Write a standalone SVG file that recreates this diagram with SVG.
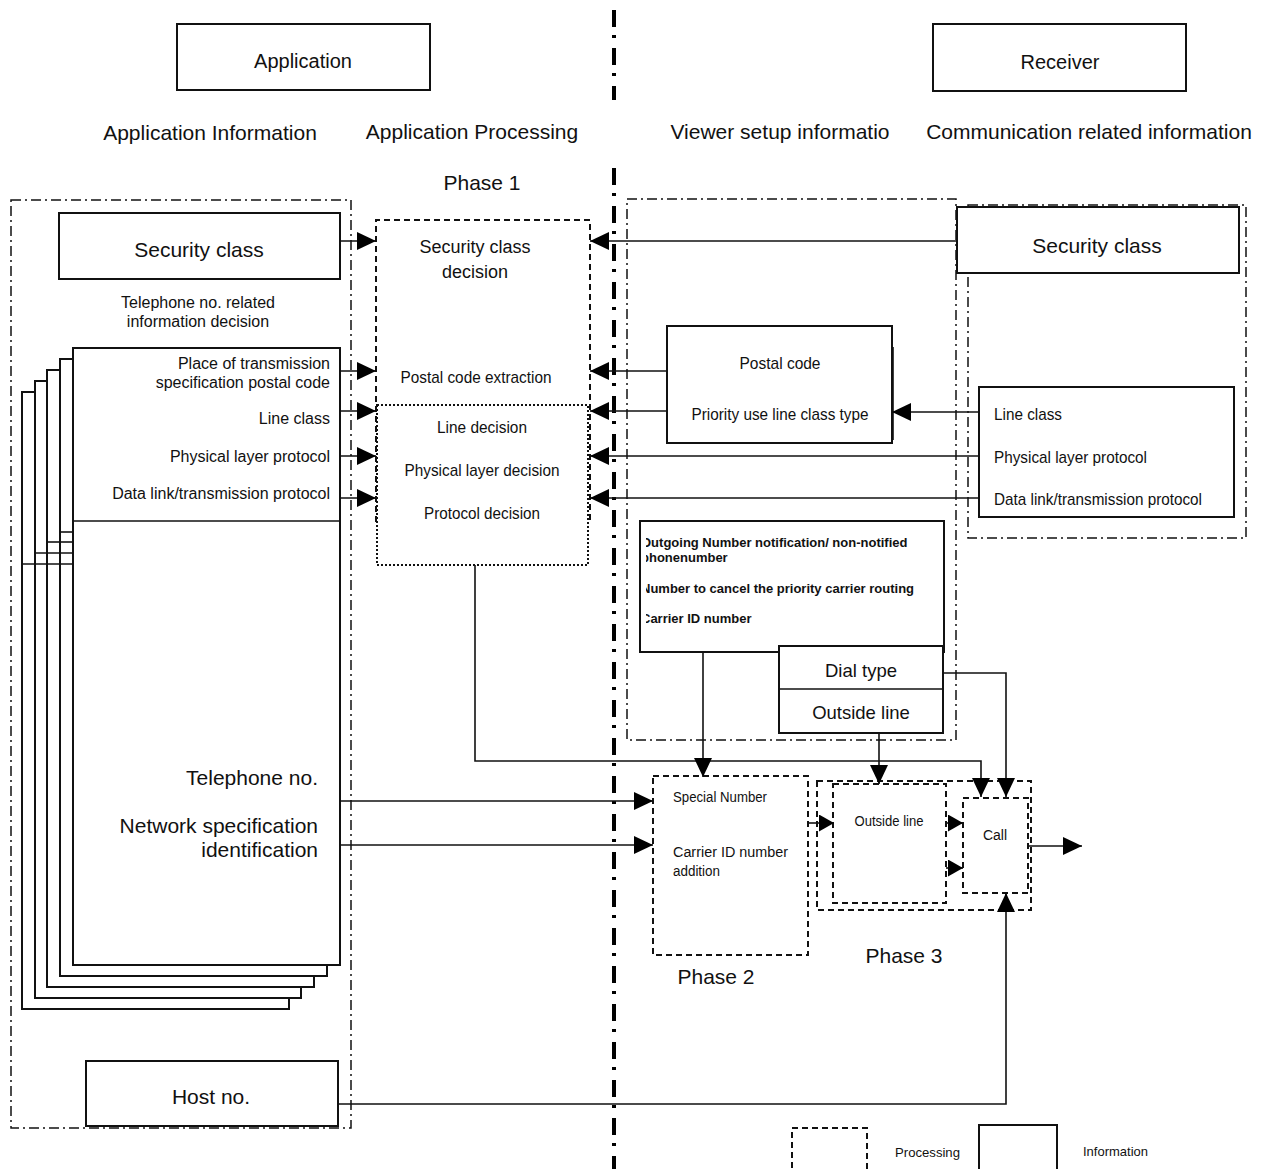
<svg xmlns="http://www.w3.org/2000/svg" width="1269" height="1169" viewBox="0 0 1269 1169">
  <style>
    text { font-family: "Liberation Sans", Arial, sans-serif; fill: #111; }
    .info { fill: #fff; stroke: #111; stroke-width: 2; }
    .proc { fill: none; stroke: #111; stroke-width: 2; stroke-dasharray: 6 4; }
    .dots { fill: none; stroke: #111; stroke-width: 2; stroke-dasharray: 2 2; }
    .zone { fill: none; stroke: #111; stroke-width: 1.5; stroke-dasharray: 10 4 2 4; }
    .divider { fill: none; stroke: #000; stroke-width: 4; stroke-dasharray: 17 8 3 10; }
    .wire { fill: none; stroke: #111; stroke-width: 1.6; }
    .arr { marker-end: url(#head); }
    .arrs { marker-end: url(#headS); }
    .c { text-anchor: middle; }
    .r { text-anchor: end; }
    .b { font-weight: bold; }
  </style>
  <defs>
    <marker id="head" viewBox="0 0 19 18" markerWidth="19" markerHeight="18" refX="19" refY="9" orient="auto" markerUnits="userSpaceOnUse">
      <path d="M0,0 L19,9 L0,18 Z" fill="#000"/>
    </marker>
    <marker id="headS" viewBox="0 0 15 17" markerWidth="15" markerHeight="17" refX="15" refY="8.5" orient="auto" markerUnits="userSpaceOnUse">
      <path d="M0,0 L15,8.5 L0,17 Z" fill="#000"/>
    </marker>
    <clipPath id="outgoingClip">
      <rect x="646" y="522" width="296" height="129"/>
    </clipPath>
  </defs>

  <rect width="1269" height="1169" fill="#fff"/>

  <!-- centre separator -->
  <g id="separator">
    <line class="divider" x1="614" y1="10" x2="614" y2="100"/>
    <line class="divider" x1="614" y1="168" x2="614" y2="1169"/>
  </g>

  <!-- headings -->
  <g id="app-title">
    <rect class="info" x="177" y="24" width="253" height="66"/>
    <text class="c" x="303" y="68" font-size="20">Application</text>
  </g>
  <g id="receiver-title">
    <rect class="info" x="933" y="24" width="253" height="67"/>
    <text class="c" x="1060" y="69" font-size="20">Receiver</text>
  </g>
  <g id="headings" font-size="21">
    <text class="c" x="210" y="140">Application Information</text>
    <text class="c" x="472" y="139">Application Processing</text>
    <text class="c" x="780" y="139">Viewer setup informatio</text>
    <text class="c" x="1089" y="139">Communication related information</text>
    <text class="c" x="482" y="190">Phase 1</text>
    <text class="c" x="716" y="984">Phase 2</text>
    <text class="c" x="904" y="963">Phase 3</text>
  </g>

  <!-- zones -->
  <g id="zones">
    <rect class="zone" x="11" y="200" width="340" height="928"/>
    <rect class="zone" x="627" y="199" width="329" height="541"/>
    <rect class="zone" x="968" y="205" width="278" height="333"/>
  </g>

  <!-- application information -->
  <g id="app-security-class">
    <rect class="info" x="59" y="213" width="281" height="66"/>
    <text class="c" x="199" y="257" font-size="21">Security class</text>
  </g>
  <g id="tel-related-label" font-size="16">
    <text class="c" x="198" y="308">Telephone no. related</text>
    <text class="c" x="198" y="327">information decision</text>
  </g>

  <g id="telephone-stack">
    <rect class="info" x="22" y="392" width="267" height="617"/>
    <rect class="info" x="35" y="381" width="266" height="617"/>
    <rect class="info" x="47" y="370" width="267" height="617"/>
    <rect class="info" x="60" y="359" width="267" height="617"/>
    <line class="wire" stroke-width="2" x1="22" y1="564" x2="73" y2="564"/>
    <line class="wire" stroke-width="2" x1="35" y1="553" x2="73" y2="553"/>
    <line class="wire" stroke-width="2" x1="47" y1="542" x2="73" y2="542"/>
    <line class="wire" stroke-width="2" x1="60" y1="532" x2="73" y2="532"/>
    <rect class="info" x="73" y="348" width="267" height="617"/>
    <line class="wire" stroke-width="2" x1="73" y1="521" x2="340" y2="521"/>
    <g font-size="16">
      <text class="r" x="330" y="369">Place of transmission</text>
      <text class="r" x="330" y="388">specification postal code</text>
      <text class="r" x="330" y="424">Line class</text>
      <text class="r" x="330" y="462">Physical layer protocol</text>
      <text class="r" x="330" y="499">Data link/transmission protocol</text>
    </g>
    <g font-size="21">
      <text class="r" x="318" y="785">Telephone no.</text>
      <text class="r" x="318" y="833">Network specification</text>
      <text class="r" x="318" y="857">identification</text>
    </g>
  </g>

  <g id="host-no">
    <rect class="info" x="86" y="1061" width="252" height="65"/>
    <text class="c" x="211" y="1104" font-size="21">Host no.</text>
  </g>

  <!-- phase 1 processing: open dashed frame over a dotted sub-box -->
  <g id="phase1-processing">
    <path class="proc" d="M376,522 V220 H590 V522"/>
    <rect class="dots" x="377" y="405" width="211" height="160"/>
    <text class="c" x="475" y="253" font-size="18">Security class</text>
    <text class="c" x="475" y="278" font-size="18">decision</text>
    <g font-size="17">
      <text class="c" x="476" y="383" textLength="151" lengthAdjust="spacingAndGlyphs">Postal code extraction</text>
      <text class="c" x="482" y="433" textLength="90" lengthAdjust="spacingAndGlyphs">Line decision</text>
      <text class="c" x="482" y="476" textLength="155" lengthAdjust="spacingAndGlyphs">Physical layer decision</text>
      <text class="c" x="482" y="519" textLength="116" lengthAdjust="spacingAndGlyphs">Protocol decision</text>
    </g>
  </g>

  <!-- viewer setup information -->
  <g id="viewer-postal">
    <rect class="info" x="667" y="326" width="225" height="117"/>
    <line class="wire" stroke-width="2" x1="893" y1="347" x2="893" y2="440"/>
    <g font-size="17">
      <text class="c" x="780" y="369" textLength="81" lengthAdjust="spacingAndGlyphs">Postal code</text>
      <text class="c" x="780" y="420" textLength="177" lengthAdjust="spacingAndGlyphs">Priority use line class type</text>
    </g>
  </g>
  <g id="viewer-outgoing">
    <rect class="info" x="640" y="521" width="304" height="131"/>
    <g font-size="13" class="b" clip-path="url(#outgoingClip)">
      <text x="641" y="547">Outgoing Number notification/ non-notified</text>
      <text x="641" y="562">phonenumber</text>
      <text x="641" y="593">Number to cancel the priority carrier routing</text>
      <text x="641" y="623">Carrier ID number</text>
    </g>
  </g>
  <g id="viewer-dial">
    <rect class="info" x="779" y="646" width="164" height="87"/>
    <line class="wire" x1="779" y1="689" x2="943" y2="689"/>
    <text class="c" x="861" y="677" font-size="18.5">Dial type</text>
    <text class="c" x="861" y="719" font-size="18.5">Outside line</text>
  </g>

  <!-- communication related information -->
  <g id="recv-security-class">
    <rect class="info" x="957" y="207" width="282" height="66"/>
    <text class="c" x="1097" y="253" font-size="21">Security class</text>
  </g>
  <g id="recv-line">
    <rect class="info" x="979" y="387" width="255" height="130"/>
    <g font-size="17">
      <text x="994" y="420" textLength="68" lengthAdjust="spacingAndGlyphs">Line class</text>
      <text x="994" y="463" textLength="153" lengthAdjust="spacingAndGlyphs">Physical layer protocol</text>
      <text x="994" y="505" textLength="208" lengthAdjust="spacingAndGlyphs">Data link/transmission protocol</text>
    </g>
  </g>

  <!-- phase 2 -->
  <g id="phase2-special">
    <rect class="proc" x="653" y="776" width="155" height="179"/>
    <g font-size="14">
      <text x="673" y="802" textLength="94" lengthAdjust="spacingAndGlyphs">Special Number</text>
      <text x="673" y="857" textLength="115" lengthAdjust="spacingAndGlyphs">Carrier  ID  number</text>
      <text x="673" y="876" textLength="47" lengthAdjust="spacingAndGlyphs">addition</text>
    </g>
  </g>

  <!-- phase 3 -->
  <g id="phase3">
    <rect class="proc" x="817" y="781" width="214" height="129"/>
  </g>
  <g id="phase3-outside">
    <rect class="proc" x="833" y="784" width="113" height="119"/>
    <text class="c" x="889" y="826" font-size="14" textLength="69" lengthAdjust="spacingAndGlyphs">Outside line</text>
  </g>
  <g id="phase3-call">
    <rect class="proc" x="963" y="798" width="65" height="95"/>
    <text class="c" x="995" y="840" font-size="14">Call</text>
  </g>

  <!-- legend -->
  <g id="legend-processing">
    <rect class="proc" x="792" y="1128" width="75" height="50"/>
    <text x="895" y="1157" font-size="13.5" textLength="65" lengthAdjust="spacingAndGlyphs">Processing</text>
  </g>
  <g id="legend-information">
    <rect class="info" x="979" y="1125" width="78" height="55"/>
    <text x="1083" y="1156" font-size="13.5" textLength="65" lengthAdjust="spacingAndGlyphs">Information</text>
  </g>

  <!-- connectors -->
  <g id="connectors">
    <!-- application information into phase 1 -->
    <line class="wire arr" x1="340" y1="241" x2="376" y2="241"/>
    <line class="wire arr" x1="340" y1="371" x2="376" y2="371"/>
    <line class="wire arr" x1="340" y1="411" x2="376" y2="411"/>
    <line class="wire arr" x1="340" y1="456" x2="376" y2="456"/>
    <line class="wire arr" x1="340" y1="498" x2="376" y2="498"/>
    <!-- receiver side into phase 1 -->
    <line class="wire arr" x1="957" y1="241" x2="590" y2="241"/>
    <line class="wire arr" x1="667" y1="371" x2="590" y2="371"/>
    <line class="wire arr" x1="667" y1="411" x2="590" y2="411"/>
    <line class="wire arr" x1="979" y1="456" x2="590" y2="456"/>
    <line class="wire arr" x1="979" y1="498" x2="590" y2="498"/>
    <line class="wire arr" x1="979" y1="412" x2="892" y2="412"/>
    <!-- phase 1 decision to call -->
    <polyline class="wire arr" points="475,565 475,761 981,761 981,797"/>
    <!-- dial type to call -->
    <polyline class="wire arr" points="943,673 1006,673 1006,797"/>
    <!-- outgoing info to special number -->
    <line class="wire arr" x1="703" y1="652" x2="703" y2="777"/>
    <!-- outside line info to phase 3 -->
    <line class="wire arr" x1="879" y1="733" x2="879" y2="784"/>
    <!-- telephone no. / network to phase 2 -->
    <line class="wire arr" x1="340" y1="801" x2="653" y2="801"/>
    <line class="wire arr" x1="340" y1="845" x2="653" y2="845"/>
    <!-- phase 2 to phase 3 -->
    <line class="wire arrs" x1="808" y1="823" x2="834" y2="823"/>
    <line class="wire arrs" x1="946" y1="823" x2="963" y2="823"/>
    <line class="wire arrs" x1="946" y1="868" x2="963" y2="868"/>
    <!-- call output -->
    <line class="wire arr" x1="1028" y1="846" x2="1082" y2="846"/>
    <!-- host no. to call -->
    <polyline class="wire arr" points="338,1104 1006,1104 1006,893"/>
  </g>
</svg>
